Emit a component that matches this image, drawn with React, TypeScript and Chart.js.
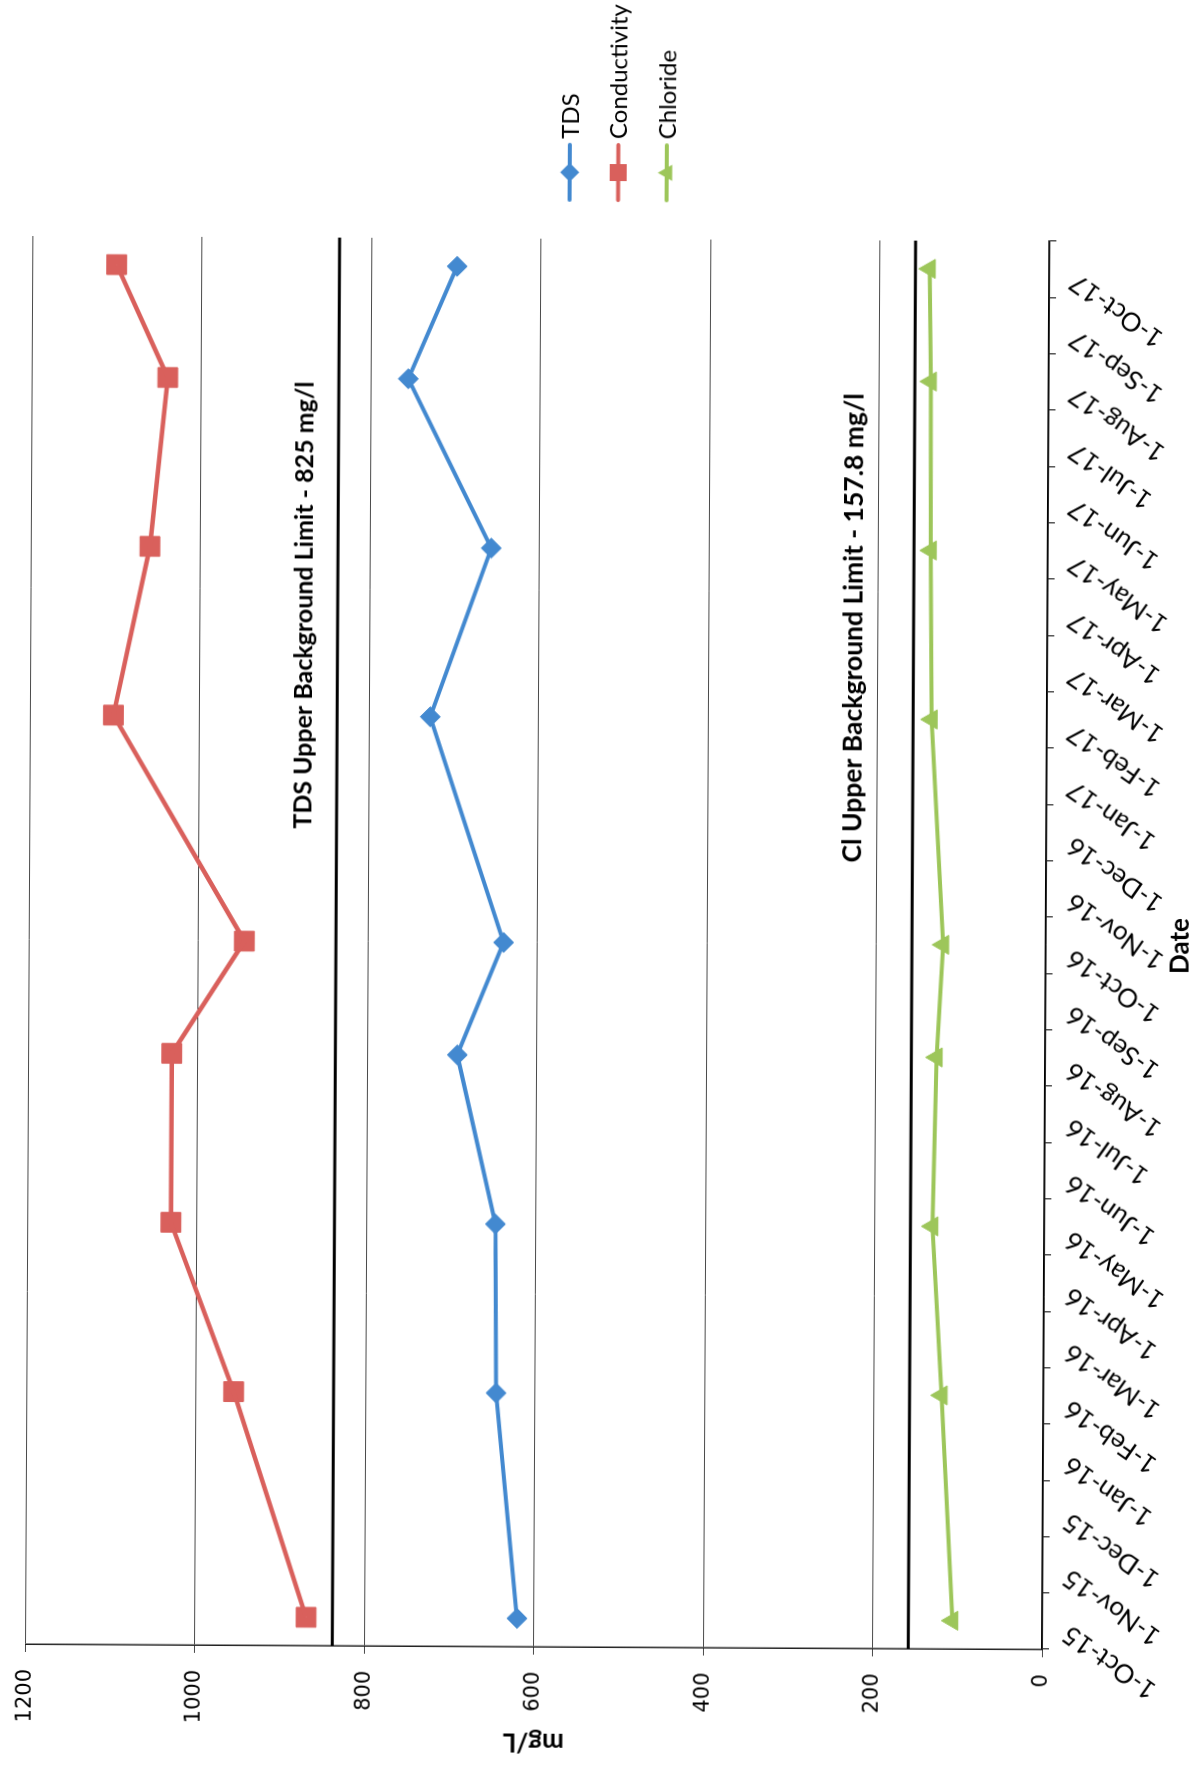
import React, { useEffect, useRef } from 'react';
import { Chart, registerables } from 'chart.js';

Chart.register(...registerables);

// ---- data ----
const monthLabels = [
  '1-Oct-15', '1-Nov-15', '1-Dec-15', '1-Jan-16', '1-Feb-16', '1-Mar-16', '1-Apr-16',
  '1-May-16', '1-Jun-16', '1-Jul-16', '1-Aug-16', '1-Sep-16', '1-Oct-16', '1-Nov-16',
  '1-Dec-16', '1-Jan-17', '1-Feb-17', '1-Mar-17', '1-Apr-17', '1-May-17', '1-Jun-17',
  '1-Jul-17', '1-Aug-17', '1-Sep-17', '1-Oct-17',
];
// sampling dates, as months after 1-Oct-15
const sampleMonths = [0.5, 4.5, 7.5, 10.5, 12.5, 16.5, 19.5, 22.5, 24.5];
const tdsValues = [620, 646, 648, 694, 640, 728, 657, 756, 699];
const conductivityValues = [869, 956, 1031, 1031, 946, 1102, 1060, 1040, 1101];
const chlorideValues = [106, 120, 132, 128, 121, 136, 138, 139, 141];
const tdsLimitLine = 838;
const clLimitLine = 157.8;
const yTickValues = [0, 200, 400, 600, 800, 1000, 1200];
const seriesNames = ['TDS', 'Conductivity', 'Chloride'];
const limitLabels = [
  'TDS Upper Background Limit - 825 mg/l',
  'Cl Upper Background Limit - 157.8 mg/l',
];
// where the limit labels sit (month, mg/L of baseline)
const limitLabelAnchors = [
  { month: 14.5, value: 868, size: 25 },
  { month: 13.95, value: 218, size: 26.5 },
];

const TDS_COLOR = '#4389d0';
const COND_COLOR = '#d9605c';
const CL_COLOR = '#9dc65a';

const W = 1767;
const H = 1204;

const overlayPlugin = {
  id: 'overlay',
  afterDraw(chart: any) {
    const { ctx } = chart;
    const x = chart.scales.x;
    const y = chart.scales.y;
    ctx.save();
    // limit labels
    ctx.fillStyle = '#000';
    ctx.textAlign = 'left';
    ctx.textBaseline = 'alphabetic';
    limitLabels.forEach((t, i) => {
      const a = limitLabelAnchors[i];
      ctx.font = `bold ${a.size}px Lato`;
      ctx.fillText(t, x.getPixelForValue(a.month), y.getPixelForValue(a.value));
    });
    // legend
    const colors = [TDS_COLOR, COND_COLOR, CL_COLOR];
    const x0 = 1567;
    const x1 = 1622;
    const xm = (x0 + x1) / 2;
    seriesNames.forEach((name, i) => {
      const yy = 566 + i * 48.5;
      const c = colors[i];
      ctx.strokeStyle = c;
      ctx.fillStyle = c;
      ctx.lineWidth = 4;
      ctx.lineCap = 'round';
      ctx.beginPath();
      ctx.moveTo(x0, yy);
      ctx.lineTo(x1, yy);
      ctx.stroke();
      ctx.beginPath();
      if (i === 0) {
        const r = 9.5;
        ctx.moveTo(xm, yy - r);
        ctx.lineTo(xm + r, yy);
        ctx.lineTo(xm, yy + r);
        ctx.lineTo(xm - r, yy);
        ctx.closePath();
      } else if (i === 1) {
        const s = 17;
        ctx.rect(xm - s / 2, yy - s / 2, s, s);
      } else {
        const r = 9;
        ctx.moveTo(xm, yy - r);
        ctx.lineTo(xm + r * 0.9, yy + r * 0.6);
        ctx.lineTo(xm - r * 0.9, yy + r * 0.6);
        ctx.closePath();
      }
      ctx.fill();
      ctx.fillStyle = '#000';
      ctx.font = '24px Lato';
      ctx.textAlign = 'left';
      ctx.textBaseline = 'middle';
      ctx.fillText(name, x1 + 6, yy + 1);
    });
    ctx.restore();
  },
};

const pts = (vals: number[]) => sampleMonths.map((m, i) => ({ x: m, y: vals[i] }));

export default function App() {
  const ref = useRef<HTMLCanvasElement | null>(null);

  useEffect(() => {
    if (!ref.current) return;
    const chart = new Chart(ref.current, {
      type: 'line',
      data: {
        datasets: [
          {
            label: 'TDS limit',
            data: [{ x: 0, y: tdsLimitLine }, { x: 25, y: tdsLimitLine }],
            borderColor: '#000',
            borderWidth: 3,
            pointRadius: 0,
          },
          {
            label: 'Cl limit',
            data: [{ x: 0, y: clLimitLine }, { x: 25, y: clLimitLine }],
            borderColor: '#000',
            borderWidth: 3,
            pointRadius: 0,
          },
          {
            label: seriesNames[2],
            data: pts(chlorideValues),
            borderColor: CL_COLOR,
            backgroundColor: CL_COLOR,
            borderWidth: 4,
            pointStyle: 'triangle',
            pointRadius: 11,
            pointBorderWidth: 1,
          },
          {
            label: seriesNames[0],
            data: pts(tdsValues),
            borderColor: TDS_COLOR,
            backgroundColor: TDS_COLOR,
            borderWidth: 4,
            pointStyle: 'rectRot',
            pointRadius: 10,
            pointBorderWidth: 1,
          },
          {
            label: 'Conductivity line',
            data: pts(conductivityValues),
            borderColor: COND_COLOR,
            borderWidth: 4.5,
            pointRadius: 0,
          },
          {
            label: 'Conductivity inner',
            data: pts(conductivityValues),
            borderColor: '#eea4a1',
            borderWidth: 1.2,
            pointRadius: 0,
          },
          {
            label: seriesNames[1],
            data: pts(conductivityValues),
            showLine: false,
            borderColor: COND_COLOR,
            backgroundColor: COND_COLOR,
            pointStyle: 'rect',
            pointRadius: 14,
            pointBorderWidth: 1,
          },
        ],
      },
      options: {
        responsive: false,
        animation: false,
        devicePixelRatio: 1,
        layout: { padding: { top: 22, right: W - 1528, bottom: 0, left: 0 } },
        plugins: { legend: { display: false }, tooltip: { enabled: false } },
        scales: {
          x: {
            type: 'linear',
            min: 0,
            max: 25,
            ticks: {
              stepSize: 1,
              autoSkip: false,
              maxRotation: 55,
              minRotation: 55,
              padding: 8,
              labelOffset: 18,
              color: '#000',
              font: { family: 'Lato', size: 26 },
              callback: (v: any) => monthLabels[v as number] ?? '',
            },
            grid: { drawOnChartArea: false, drawTicks: true, tickLength: 7, color: '#000', lineWidth: 1 },
            border: { display: true, color: '#000', width: 1.5 },
            title: {
              display: true,
              text: 'Date',
              color: '#000',
              font: { family: 'Lato', size: 26, weight: 'bold' },
              padding: { top: 0, bottom: 8 },
            },
            afterFit: (s: any) => {
              s.height = H - 1046;
            },
          },
          y: {
            min: 0,
            max: 1200,
            afterBuildTicks: (s: any) => {
              s.ticks = yTickValues.map((v) => ({ value: v }));
            },
            ticks: {
              padding: 17,
              color: '#000',
              font: { family: 'DejaVu Sans', size: 21 },
              callback: (v: any) => String(v),
            },
            grid: { color: '#4a4a4a', lineWidth: 1, tickLength: 8 },
            border: { display: true, color: '#222', width: 1.5 },
            title: {
              display: true,
              text: 'mg/L',
              color: '#000',
              font: { family: 'Lato', size: 26, weight: 'bold' },
              padding: { top: 9, bottom: 0 },
            },
            afterFit: (s: any) => {
              s.width = 120;
            },
          },
        },
      },
      plugins: [overlayPlugin],
    } as any);
    return () => chart.destroy();
  }, []);

  return (
    <div style={{ position: 'fixed', left: 0, top: 0, width: 1204, height: 1767, overflow: 'hidden', background: '#fff' }}>
      <div
        style={{
          position: 'absolute',
          left: 0,
          top: 0,
          width: 1204,
          height: 1767,
          transformOrigin: '602px 883px',
          transform: 'rotate(0.3deg)',
        }}
      >
        <div
          style={{
            position: 'absolute',
            left: 0,
            top: 0,
            width: W,
            height: H,
            transformOrigin: '0 0',
            transform: `translate(0px, ${W}px) rotate(-90deg)`,
          }}
        >
          <canvas ref={ref} width={W} height={H} style={{ width: W, height: H, display: 'block' }} />
        </div>
      </div>
    </div>
  );
}
